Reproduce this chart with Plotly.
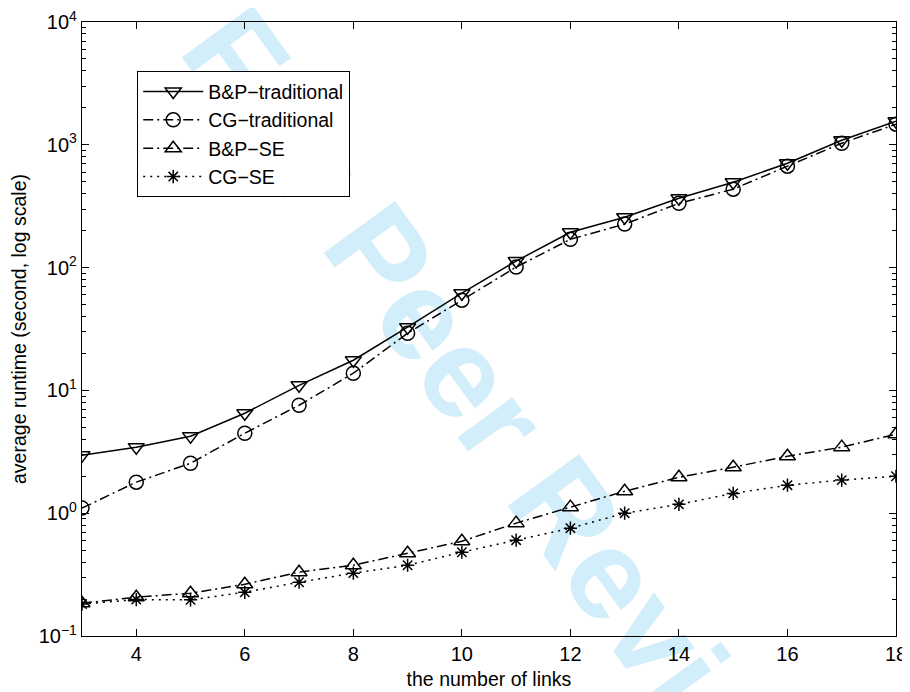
import plotly.graph_objects as go

links = [3, 4, 5, 6, 7, 8, 9, 10, 11, 12, 13, 14, 15, 16, 17, 18]
bp_traditional = [2.97, 3.45, 4.24, 6.52, 11.0, 17.6, 32.7, 61.9, 113, 194, 257, 367, 496, 708, 1090, 1556]
cg_traditional = [1.10, 1.79, 2.55, 4.48, 7.57, 13.8, 29.2, 54.3, 101, 170, 226, 334, 435, 670, 1030, 1472]
bp_se = [0.185, 0.207, 0.223, 0.264, 0.331, 0.377, 0.472, 0.591, 0.83, 1.12, 1.51, 1.96, 2.37, 2.91, 3.45, 4.40]
cg_se = [0.182, 0.198, 0.197, 0.227, 0.274, 0.325, 0.377, 0.481, 0.603, 0.755, 1.0, 1.18, 1.45, 1.69, 1.86, 2.0]

series_names = ["B&P\u2212traditional", "CG\u2212traditional", "B&P\u2212SE", "CG\u2212SE"]
y_tickvals = [0.1, 1, 10, 100, 1000, 10000]
y_ticktext = ["10<sup>\u22121</sup>", "10<sup>0</sup>", "10<sup>1</sup>", "10<sup>2</sup>", "10<sup>3</sup>", "10<sup>4</sup>"]
x_tickvals = [4, 6, 8, 10, 12, 14, 16, 18]

FONT = "Liberation Sans, Arial, Helvetica, sans-serif"
DASHDOT = "10px,4px,2px,4px"

fig = go.Figure()
fig.add_trace(go.Scatter(x=links, y=bp_traditional, name=series_names[0], mode="lines+markers",
                         line=dict(color="black", width=1.5, dash="solid"),
                         marker=dict(symbol="triangle-down-open", size=14, color="black", line=dict(width=1.5))))
fig.add_trace(go.Scatter(x=links, y=cg_traditional, name=series_names[1], mode="lines+markers",
                         line=dict(color="black", width=1.5, dash=DASHDOT),
                         marker=dict(symbol="circle-open", size=14, color="black", line=dict(width=1.5))))
fig.add_trace(go.Scatter(x=links, y=bp_se, name=series_names[2], mode="lines+markers",
                         line=dict(color="black", width=1.5, dash=DASHDOT),
                         marker=dict(symbol="triangle-up-open", size=14, color="black", line=dict(width=1.5))))
fig.add_trace(go.Scatter(x=links, y=cg_se, name=series_names[3], mode="lines+markers",
                         line=dict(color="black", width=1.5, dash="2px,5px"),
                         marker=dict(symbol="asterisk-open", size=11, color="black", line=dict(width=1.5))))

# watermark
fig.add_shape(type="rect", xref="paper", yref="paper", x0=0.512, x1=0.552, y0=0.337, y1=0.367,
              layer="below", line=dict(width=0), fillcolor="rgba(0,0,0,0)",
              label=dict(text="For Peer Review", textangle=54, textposition="middle center",
                         font=dict(size=128, color="#d3eefb", family=FONT, weight="bold")))

# page body has an 8px margin: figure is sized/margined so the plot area lands where the reference has it
fig.update_layout(
    width=902, height=684,
    margin=dict(l=74, r=14, t=14, b=56, autoexpand=False),
    paper_bgcolor="white", plot_bgcolor="white",
    font=dict(family=FONT, size=19, color="black"),
    showlegend=True,
    legend=dict(x=0.0676, y=0.92, xanchor="left", yanchor="top",
                bgcolor="white", bordercolor="black", borderwidth=1.2,
                font=dict(size=19.5, family=FONT), itemwidth=60, tracegroupgap=0),
)
fig.update_xaxes(range=[3, 18], tickmode="array", tickvals=x_tickvals, automargin=False,
                 ticklabeloverflow="allow",
                 showline=True, linecolor="black", linewidth=1.3, mirror="allticks",
                 ticks="inside", ticklen=7, tickcolor="black", showgrid=False, zeroline=False,
                 tickfont=dict(size=20),
                 title=dict(text="the number of links", font=dict(size=19.5), standoff=8))
fig.update_yaxes(type="log", range=[-1, 4], tickmode="array", tickvals=y_tickvals, ticktext=y_ticktext,
                 automargin=False, ticklabeloverflow="allow",
                 showline=True, linecolor="black", linewidth=1.3, mirror="allticks",
                 ticks="inside", ticklen=7, tickcolor="black", showgrid=False, zeroline=False,
                 tickfont=dict(size=20),
                 minor=dict(dtick="D1", ticks="inside", ticklen=4, tickcolor="black", showgrid=False),
                 title=dict(text="average runtime (second, log scale)", font=dict(size=19.5), standoff=8))

fig.write_html("out.html")
